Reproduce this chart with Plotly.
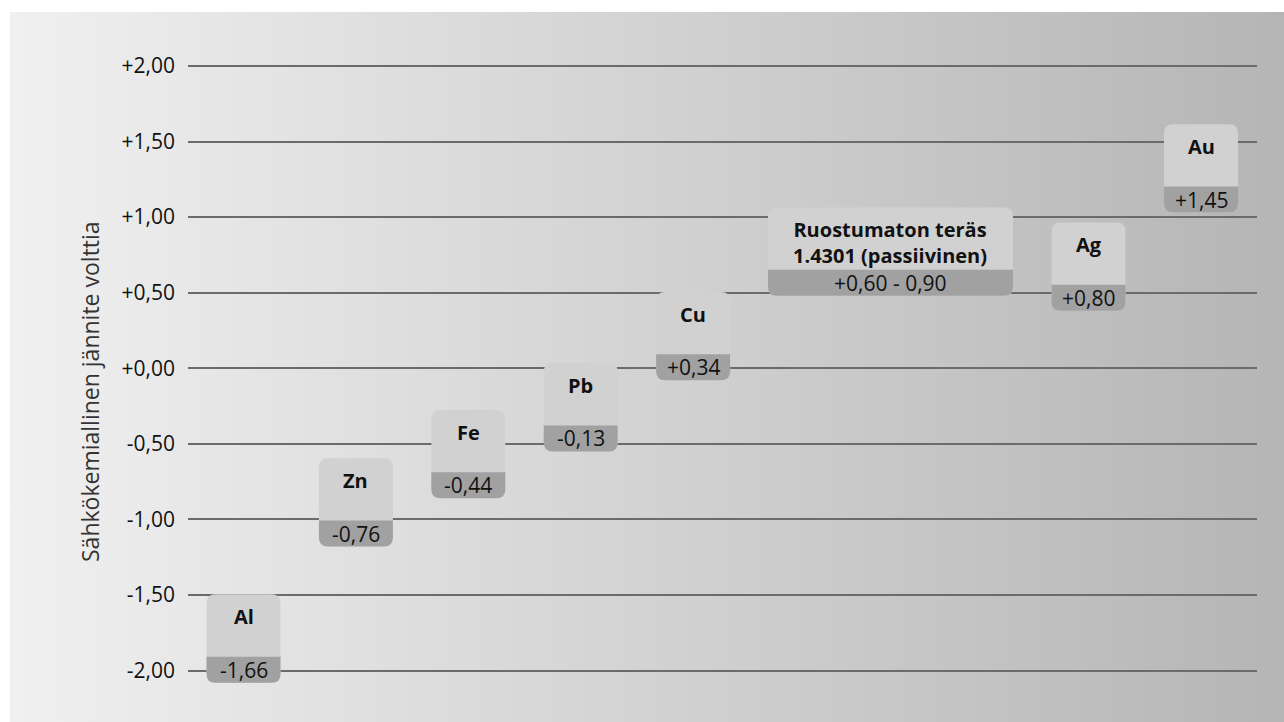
import base64
import plotly.graph_objects as go

# --- data -----------------------------------------------------------------
metals = ["Al", "Zn", "Fe", "Pb", "Cu",
          "Ruostumaton teräs<br>1.4301 (passiivinen)", "Ag", "Au"]
potential_low = [-1.66, -0.76, -0.44, -0.13, 0.34, 0.60, 0.80, 1.45]
potential_high = [-1.66, -0.76, -0.44, -0.13, 0.34, 0.90, 0.80, 1.45]
tick_values = [-2.0, -1.5, -1.0, -0.5, 0.0, 0.5, 1.0, 1.5, 2.0]
tick_labels = ["-2,00", "-1,50", "-1,00", "-0,50", "+0,00",
               "+0,50", "+1,00", "+1,50", "+2,00"]
axis_title = "Sähkökemiallinen jännite volttia"

# --- layout of the tiles along the x axis (slot units) ----------------------
slot_center = [0, 1, 2, 3, 4, 5.756, 7.518, 8.519]
slot_half = [0.329, 0.329, 0.329, 0.329, 0.329, 1.09, 0.329, 0.329]

W, H = 1284, 722
PX_X = 112.4          # pixels per slot unit
PX_Y = 151.1          # pixels per volt
X_RANGE = [-0.494, 9.017]
Y_RANGE = [-2.261, 2.304]

TILE_TOP = 0.164      # tile top sits this far above the potential (V)
TILE_H = 0.584        # tile height (V)
BAND_H = 0.172        # dark value band height (V)
RX, RY = 9 / PX_X, 9 / PX_Y

LIGHT = "#d1d1d1"
DARK = "#a1a1a1"
FONT = "Open Sans"


def fmt(v):
    return f"{v:+.2f}".replace(".", ",")


def rounded_path(x0, x1, y0, y1, top=True):
    """Rectangle with rounded bottom corners and optionally rounded top."""
    p = []
    if top:
        p.append(f"M{x0 + RX},{y1} L{x1 - RX},{y1} Q{x1},{y1} {x1},{y1 - RY}")
    else:
        p.append(f"M{x0},{y1} L{x1},{y1}")
    p.append(f"L{x1},{y0 + RY} Q{x1},{y0} {x1 - RX},{y0}")
    p.append(f"L{x0 + RX},{y0} Q{x0},{y0} {x0},{y0 + RY}")
    if top:
        p.append(f"L{x0},{y1 - RY} Q{x0},{y1} {x0 + RX},{y1} Z")
    else:
        p.append(f"L{x0},{y1} Z")
    return " ".join(p)


fig = go.Figure()
fig.add_trace(go.Scatter(x=slot_center, y=potential_high, mode="markers",
                         marker=dict(opacity=0), hoverinfo="skip",
                         showlegend=False))

shapes = []
annotations = []
for name, lo, hi, xc, hw in zip(metals, potential_low, potential_high,
                                slot_center, slot_half):
    top = hi + TILE_TOP
    bottom = top - TILE_H
    x0, x1 = xc - hw, xc + hw
    shapes.append(dict(type="path", path=rounded_path(x0, x1, bottom, top),
                       xref="x", yref="y", fillcolor=LIGHT,
                       line=dict(width=0), layer="above"))
    shapes.append(dict(type="path",
                       path=rounded_path(x0, x1, bottom, bottom + BAND_H, top=False),
                       xref="x", yref="y", fillcolor=DARK,
                       line=dict(width=0), layer="above"))
    value_text = fmt(lo) if lo == hi else f"{fmt(lo)} - {abs(hi):.2f}".replace(".", ",")
    annotations.append(dict(x=xc, y=bottom + BAND_H / 2, xref="x", yref="y",
                            text=value_text, showarrow=False,
                            font=dict(family=FONT, size=21, color="#111")))
    annotations.append(dict(x=xc, y=top - 0.045, xref="x", yref="y",
                            yanchor="top", text=f"<b>{name}</b>",
                            showarrow=False,
                            font=dict(family=FONT, size=20, color="#111")))

annotations.append(dict(x=72 / W, y=1 - 392 / H, xref="paper", yref="paper",
                        text=axis_title, textangle=-90, showarrow=False,
                        font=dict(family=FONT, size=23, color="#333")))

# horizontal grey gradient panel behind the plot
svg = (
    f'<svg xmlns="http://www.w3.org/2000/svg" width="{W}" height="{H}">'
    '<defs><linearGradient id="g" x1="0" y1="0" x2="1" y2="0">'
    '<stop offset="0" stop-color="#f0f0f0"/>'
    '<stop offset="1" stop-color="#b5b5b5"/>'
    '</linearGradient></defs>'
    f'<rect x="10" y="12" width="{W - 10}" height="{H - 12}" fill="url(#g)"/>'
    '</svg>'
)
src = "data:image/svg+xml;base64," + base64.b64encode(svg.encode()).decode()

fig.update_layout(
    width=W, height=H,
    margin=dict(l=0, r=0, t=0, b=0),
    paper_bgcolor="white",
    plot_bgcolor="rgba(0,0,0,0)",
    showlegend=False,
    shapes=shapes,
    annotations=annotations,
    images=[dict(source=src, xref="paper", yref="paper", x=0, y=1,
                 sizex=1, sizey=1, xanchor="left", yanchor="top",
                 sizing="stretch", layer="below")],
    xaxis=dict(domain=[188 / W, 1257 / W], range=X_RANGE, visible=False,
               showgrid=False, zeroline=False),
    yaxis=dict(domain=[(H - 710) / H, (H - 20) / H], range=Y_RANGE,
               tickvals=tick_values, ticktext=tick_labels,
               showgrid=True, gridcolor="#6b6b6b", gridwidth=1.5,
               zeroline=False, showline=False, ticks="",
               ticklabelstandoff=12,
               tickfont=dict(family=FONT, size=21, color="#111")),
)

fig.write_html("out.html")
